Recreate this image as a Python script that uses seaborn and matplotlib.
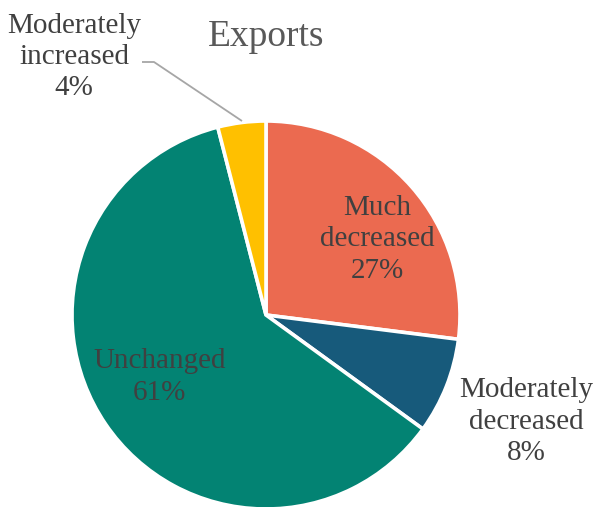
import matplotlib
matplotlib.use("Agg")
import matplotlib.pyplot as plt
import seaborn as sns

sns.set_theme(style="white")
plt.rcParams["font.family"] = ["Liberation Serif", "DejaVu Serif"]

categories = ["Much\ndecreased", "Moderately\ndecreased", "Unchanged", "Moderately\nincreased"]
shares = [27, 8, 61, 4]
colors = sns.color_palette(["#EB6A50", "#175A7B", "#038373", "#FFC000"])
text_color = "#404040"

W, H = 597, 507
fig = plt.figure(figsize=(W / 100, H / 100), dpi=100)
cx, cy, r = 266, 315, 194
ax = fig.add_axes([(cx - r) / W, (H - cy - r) / H, 2 * r / W, 2 * r / H])

ax.pie(shares, colors=colors, startangle=90, counterclock=False, radius=1,
       wedgeprops=dict(edgecolor="white", linewidth=2.6))
ax.set_xlim(-1, 1)
ax.set_ylim(-1, 1)
ax.set_aspect("equal")
ax.axis("off")

label_pos = [(0.575, 0.39), (1.34, -0.55), (-0.55, -0.32), (-0.99, 1.33)]
for name, val, (x, y) in zip(categories, shares, label_pos):
    ax.text(x, y, f"{name}\n{val}%", ha="center", va="center", fontsize=21,
            color=text_color, linespacing=1.27, clip_on=False)

# leader line for the small slice
def to_data(px, py):
    return (px - cx) / r, (cy - py) / r

pts = [to_data(142, 62), to_data(154, 62), to_data(242, 121)]
ax.plot([p[0] for p in pts], [p[1] for p in pts], color="#A6A6A6", lw=1.3,
        clip_on=False, solid_capstyle="butt")

fig.text(cx / W, 1 - 37 / H, "Exports", ha="center", va="center", fontsize=27,
         color="#595959")

fig.savefig("out.png", dpi=100)
